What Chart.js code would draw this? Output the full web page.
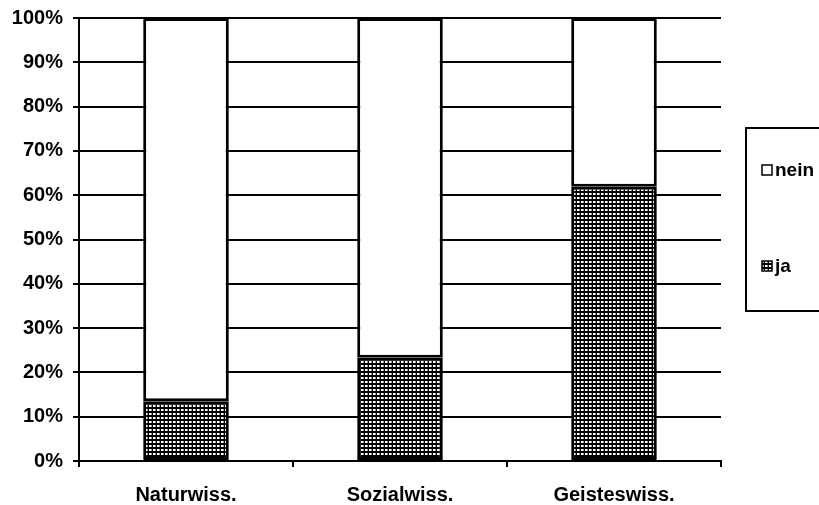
<!DOCTYPE html>
<html>
<head>
<meta charset="utf-8">
<script src="https://cdn.jsdelivr.net/npm/chart.js@4/dist/chart.umd.min.js"></script>
<style>
  html, body { margin: 0; padding: 0; background: #fff; }
  #wrap { width: 819px; height: 505px; }
</style>
</head>
<body>
<div id="wrap"><canvas id="c" width="819" height="505"></canvas></div>
<script>
// Fields of study and share of answers (percent)
const categories = ['Naturwiss.', 'Sozialwiss.', 'Geisteswiss.'];
const jaValues = [13.5, 23.3, 61.9];
const neinValues = [86.5, 76.7, 38.1];
const seriesNames = ['ja', 'nein'];
const yTicks = [0, 10, 20, 30, 40, 50, 60, 70, 80, 90, 100];

const FONT = 'Liberation Sans, Arial, sans-serif';

// Fine checkered fill used for the "ja" segment
function makeHatch() {
  const t = document.createElement('canvas');
  t.width = 4; t.height = 4;
  const g = t.getContext('2d');
  g.fillStyle = '#000';
  g.fillRect(0, 0, 4, 4);
  g.fillStyle = '#fff';
  g.fillRect(1, 1, 2, 2);
  g.fillStyle = '#999';
  g.fillRect(3, 1, 1, 2);
  const ctx = document.getElementById('c').getContext('2d');
  return ctx.createPattern(t, 'repeat');
}
const hatch = makeHatch();

// Boxed legend at the right edge, top entry = top segment
const boxLegend = {
  id: 'boxLegend',
  afterDraw(chart) {
    const ctx = chart.ctx;
    const left = 746, top = 128, bottom = 311;
    ctx.save();
    ctx.lineWidth = 2;
    ctx.strokeStyle = '#000';
    ctx.strokeRect(left, top, 100, bottom - top);
    const ds = chart.data.datasets.slice().reverse();
    const rowY = [170, 266];
    ds.forEach((d, i) => {
      const y = rowY[i];
      ctx.fillStyle = d.backgroundColor;
      ctx.fillRect(762, y - 5, 10, 10);
      ctx.lineWidth = 1.5;
      ctx.strokeStyle = '#000';
      ctx.strokeRect(762, y - 5, 10, 10);
      ctx.fillStyle = '#000';
      ctx.font = 'bold 19px ' + FONT;
      ctx.textBaseline = 'middle';
      ctx.textAlign = 'left';
      ctx.fillText(d.label, 775, y + 1);
    });
    ctx.restore();
  }
};

new Chart(document.getElementById('c'), {
  type: 'bar',
  data: {
    labels: categories,
    datasets: [
      { label: seriesNames[0], data: jaValues, backgroundColor: hatch,
        borderColor: '#000', borderWidth: 3, borderSkipped: false },
      { label: seriesNames[1], data: neinValues, backgroundColor: '#fff',
        borderColor: '#000', borderWidth: 3, borderSkipped: false }
    ]
  },
  options: {
    responsive: false,
    animation: false,
    devicePixelRatio: 1,
    layout: { padding: { top: 18, right: 98, left: 0, bottom: 0 } },
    datasets: { bar: { categoryPercentage: 1.0, barPercentage: 0.4 } },
    plugins: { legend: { display: false }, tooltip: { enabled: false } },
    scales: {
      x: {
        stacked: true,
        grid: { drawOnChartArea: false, color: '#000', lineWidth: 2, tickLength: 6, offset: true },
        border: { color: '#000', width: 2 },
        ticks: { color: '#000', font: { family: FONT, size: 20, weight: 'bold' }, padding: 16, maxRotation: 0 },
        afterFit(s) { s.height = 44; s.paddingLeft = 0; s.paddingRight = 0; }
      },
      y: {
        stacked: true,
        min: 0, max: 100,
        afterBuildTicks(s) { s.ticks = yTicks.map(v => ({ value: v })); },
        grid: { color: '#000', lineWidth: 2, tickLength: 6 },
        border: { color: '#000', width: 2 },
        ticks: { color: '#000', font: { family: FONT, size: 20, weight: 'bold' }, padding: 10,
                 callback: v => v + '%' },
        afterFit(s) { s.width = 79; s.paddingTop = 0; s.paddingBottom = 0; }
      }
    }
  },
  plugins: [boxLegend]
});
</script>
</body>
</html>
